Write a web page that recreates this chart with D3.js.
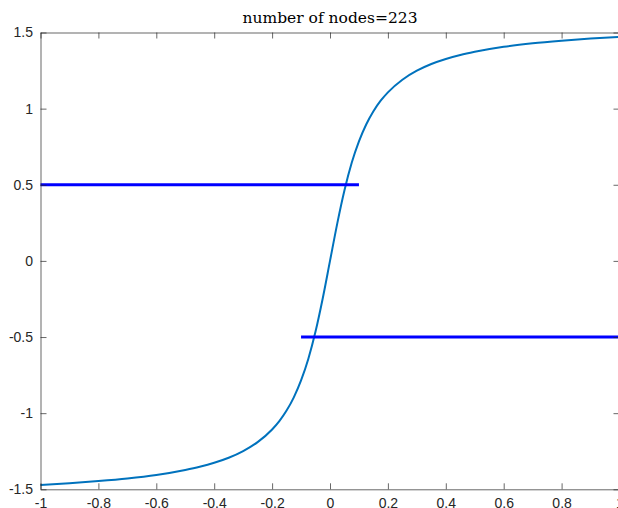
<!DOCTYPE html>
<html>
<head>
<meta charset="utf-8">
<script src="https://cdn.jsdelivr.net/npm/d3@7"></script>
<style>
  body { margin: 0; background: #fff; }
  svg { display: block; }
</style>
</head>
<body>
<div id="chart"></div>
<script>
var title = 'number of nodes=223';

// curve
var curveX = [-1, -0.9, -0.8, -0.7, -0.6, -0.5, -0.45, -0.4, -0.35, -0.3, -0.25, -0.2,
  -0.175, -0.15, -0.125, -0.1, -0.075, -0.05, -0.025, 0,
  0.025, 0.05, 0.075, 0.1, 0.125, 0.15, 0.175, 0.2, 0.25, 0.3, 0.35, 0.4, 0.45, 0.5,
  0.6, 0.7, 0.8, 0.9, 1];
var curveY = [-1.471, -1.460, -1.446, -1.429, -1.406, -1.373, -1.352, -1.326, -1.293, -1.249, -1.190, -1.107,
  -1.052, -0.983, -0.896, -0.785, -0.644, -0.464, -0.245, 0,
  0.245, 0.464, 0.644, 0.785, 0.896, 0.983, 1.052, 1.107, 1.190, 1.249, 1.293, 1.326, 1.352, 1.373,
  1.406, 1.429, 1.446, 1.460, 1.471];

// the two level segments
var segLevel = [0.5, -0.5];
var segFrom = [-1, -0.1];
var segTo = [0.1, 1];

var xTicks = [-1, -0.8, -0.6, -0.4, -0.2, 0, 0.2, 0.4, 0.6, 0.8, 1];
var yTicks = [-1.5, -1, -0.5, 0, 0.5, 1, 1.5];

var curveColor = '#0072BD';
var segColor = '#0000FF';
var axisColor = '#262626';

var fullWidth = 618, fullHeight = 508;
var margin = {left: 40.5, right: 619.5, top: 32.5, bottom: 489.3};

var svg = d3.select('#chart').append('svg')
  .attr('width', fullWidth)
  .attr('height', fullHeight);

var x = d3.scaleLinear().domain([-1, 1]).range([margin.left, margin.right]);
var y = d3.scaleLinear().domain([-1.5, 1.5]).range([margin.bottom, margin.top]);

var tickLen = 6;
var fmt = function(d) { return String(d); };

// plot lines first, axes on top like MATLAB's box
var plot = svg.append('g');

var line = d3.line()
  .x(function(d) { return x(d[0]); })
  .y(function(d) { return y(d[1]); })
  .curve(d3.curveMonotoneX);

plot.append('path')
  .datum(curveX.map(function(v, i) { return [v, curveY[i]]; }))
  .attr('d', line)
  .attr('fill', 'none')
  .attr('stroke', curveColor)
  .attr('stroke-width', 2);

plot.selectAll('line.seg').data(segLevel).enter()
  .append('line')
  .classed('seg', true)
  .attr('x1', function(d, i) { return x(segFrom[i]); })
  .attr('x2', function(d, i) { return x(segTo[i]); })
  .attr('y1', function(d) { return y(d); })
  .attr('y2', function(d) { return y(d); })
  .attr('stroke', segColor)
  .attr('stroke-width', 3);

// axes
var xAxis = d3.axisBottom(x).tickValues(xTicks).tickFormat(fmt)
  .tickSizeInner(-tickLen).tickSizeOuter(0).tickPadding(8.5);
var yAxis = d3.axisLeft(y).tickValues(yTicks).tickFormat(fmt)
  .tickSizeInner(-tickLen).tickSizeOuter(0).tickPadding(7.5);
var xAxisTop = d3.axisTop(x).tickValues(xTicks).tickFormat('')
  .tickSizeInner(-tickLen).tickSizeOuter(0);
var yAxisRight = d3.axisRight(y).tickValues(yTicks).tickFormat('')
  .tickSizeInner(-tickLen).tickSizeOuter(0);

var gx = svg.append('g').attr('transform', 'translate(0,' + margin.bottom + ')').call(xAxis);
var gy = svg.append('g').attr('transform', 'translate(' + margin.left + ',0)').call(yAxis);
var gxt = svg.append('g').attr('transform', 'translate(0,' + margin.top + ')').call(xAxisTop);
var gyr = svg.append('g').attr('transform', 'translate(' + margin.right + ',0)').call(yAxisRight);

[gx, gy, gxt, gyr].forEach(function(g) {
  g.select('.domain').attr('stroke', axisColor).attr('stroke-width', 0.7);
  g.selectAll('.tick line').attr('stroke', axisColor).attr('stroke-width', 0.7);
  g.selectAll('.tick text')
    .attr('fill', axisColor)
    .style('font-family', '"Liberation Sans", Arial, sans-serif')
    .style('font-size', '14px');
});

svg.append('text')
  .attr('x', (margin.left + margin.right) / 2)
  .attr('y', 23)
  .attr('text-anchor', 'middle')
  .style('font-family', '"DejaVu Serif", serif')
  .style('font-size', '15.5px')
  .style('fill', '#000')
  .text(title);
</script>
</body>
</html>
